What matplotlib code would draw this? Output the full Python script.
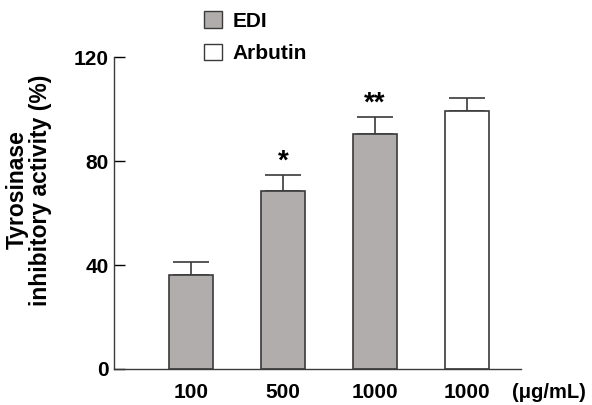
import matplotlib.pyplot as plt
from matplotlib.patches import Patch

plt.rcParams['font.family'] = ['Liberation Sans', 'DejaVu Sans']
plt.rcParams['font.weight'] = 'bold'

labels = ['100', '500', '1000', '1000']
values = [36.2, 68.5, 90.4, 99.2]
errors = [5.0, 6.1, 6.5, 5.0]
groups = ['EDI', 'EDI', 'EDI', 'Arbutin']
stars = ['', '*', '**', '']

colors = {'EDI': '#b1adac', 'Arbutin': 'white'}

fig = plt.figure(figsize=(5.92, 4.05), dpi=100)
ax = fig.add_axes([0.1926, 0.0889, 0.6874, 0.7701])

x = range(len(values))
ax.bar(x, values, width=0.48, color=[colors[g] for g in groups],
       edgecolor='#3a3a3a', linewidth=1.2, zorder=2)
ax.errorbar(x, values, yerr=[[0] * len(errors), errors], fmt='none',
            ecolor='#3a3a3a', elinewidth=1.2, capsize=13, capthick=1.2, zorder=1)
for i, s in enumerate(stars):
    if s:
        ax.text(i, values[i] + errors[i] + 0.3, s, ha='center', va='bottom',
                fontsize=20, fontweight='bold')

ax.set_xlim(-0.837, 3.587)
ax.set_ylim(0, 120)
ax.set_yticks([0, 40, 80, 120])
ax.set_xticks(list(x))
ax.set_xticklabels(labels)
ax.tick_params(axis='x', length=0, pad=10, labelsize=15)
ax.tick_params(axis='y', length=8, width=1, pad=4, labelsize=15, direction='in')
ax.spines['top'].set_visible(False)
ax.spines['right'].set_visible(False)
for sp in ['left', 'bottom']:
    ax.spines[sp].set_color('#3a3a3a')
    ax.spines[sp].set_linewidth(1.0)

ax.set_ylabel('Tyrosinase\ninhibitory activity (%)', fontsize=16.5, fontweight='bold',
              linespacing=1.0)
ax.yaxis.set_label_coords(-0.152, 0.574)
ax.text(0.978, -0.045, '(μg/mL)', transform=ax.transAxes, ha='left', va='top',
        fontsize=14.5, fontweight='bold')

handles = [Patch(facecolor=colors['EDI'], edgecolor='#3a3a3a', label='EDI'),
           Patch(facecolor='white', edgecolor='#3a3a3a', label='Arbutin')]
fig.legend(handles=handles, loc='upper left', bbox_to_anchor=(0.3125, 1.018),
           frameon=False, fontsize=15, handlelength=0.87, handleheight=0.87,
           labelspacing=0.6, handletextpad=0.5)

fig.savefig('out.png', dpi=100)
